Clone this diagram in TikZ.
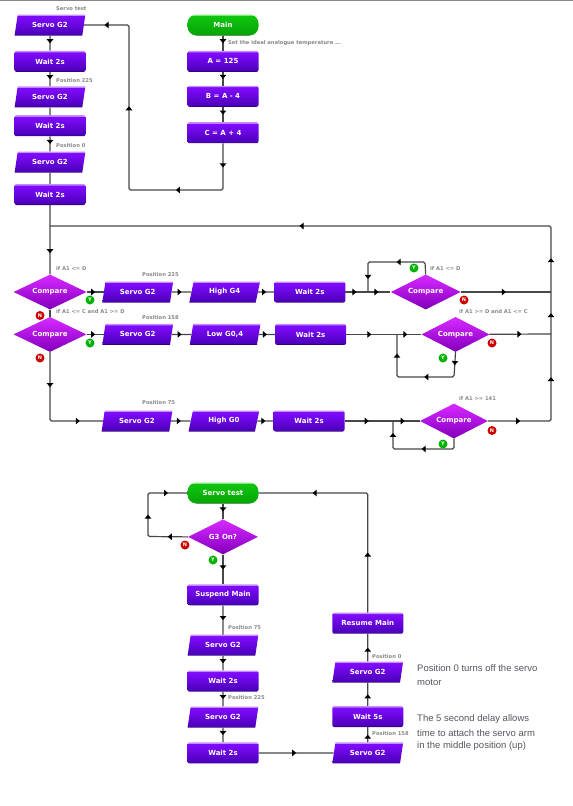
\documentclass[tikz,border=0pt]{standalone}
\usepackage{fontspec}
\setsansfont{DejaVu Sans}
\newfontfamily\notefont{Liberation Sans}
\usetikzlibrary{shapes.geometric,arrows.meta,positioning,decorations.markings}

\definecolor{cap_gray}{RGB}{135,135,135}
\definecolor{note_gray}{RGB}{85,85,95}
\definecolor{pur_dark}{RGB}{50,0,125}
\definecolor{pur_low}{RGB}{75,0,185}
\definecolor{pur_high}{RGB}{125,10,250}
\definecolor{pur_edge}{RGB}{195,140,255}
\definecolor{mag_dark}{RGB}{85,0,140}
\definecolor{mag_low}{RGB}{135,0,190}
\definecolor{mag_high}{RGB}{205,35,250}
\definecolor{mag_edge}{RGB}{215,90,255}
\definecolor{grn_dark}{RGB}{0,105,0}
\definecolor{grn_low}{RGB}{5,165,5}
\definecolor{grn_high}{RGB}{15,195,15}
\definecolor{grn_edge}{RGB}{120,235,120}
% bevelled fills, 25bp to 75bp is the height of the shape
\pgfdeclareverticalshading{purple_bevel}{100bp}{color(0bp)=(pur_dark); color(27.5bp)=(pur_dark); color(28bp)=(pur_low); color(68bp)=(pur_high); color(72bp)=(pur_high); color(73bp)=(pur_edge); color(100bp)=(pur_edge)}
\pgfdeclareverticalshading{magenta_bevel}{100bp}{color(0bp)=(mag_dark); color(26.5bp)=(mag_dark); color(28bp)=(mag_low); color(68bp)=(mag_high); color(100bp)=(mag_edge)}
\pgfdeclareverticalshading{green_bevel}{100bp}{color(0bp)=(grn_dark); color(27.5bp)=(grn_dark); color(28bp)=(grn_low); color(68bp)=(grn_high); color(72bp)=(grn_high); color(73bp)=(grn_edge); color(100bp)=(grn_edge)}

\begin{document}
\begin{tikzpicture}[
    x=1pt, y=-1pt,
    font=\sffamily\bfseries\fontsize{7}{8}\selectfont,
    proc_box/.style={shading=purple_bevel, rounded corners=2pt, text=white, inner sep=0pt, minimum width=71pt, minimum height=21pt},
    io_box/.style={trapezium, trapezium left angle=72, trapezium right angle=108, trapezium stretches=true, shading=purple_bevel, text=white, inner sep=0pt, minimum width=71pt, minimum height=21pt},
    dec_box/.style={diamond, aspect=2.1, shading=magenta_bevel, text=white, inner sep=0pt, minimum width=#1, minimum height=35pt},
    start_box/.style={shading=green_bevel, rounded corners=9pt, text=white, inner sep=0pt, minimum width=71pt, minimum height=21pt},
    yes_dot/.style={circle, fill=green!70!black, text=white, inner sep=0pt, minimum size=9pt, font=\sffamily\bfseries\fontsize{5}{5}\selectfont},
    no_dot/.style={circle, fill=red!80!black, text=white, inner sep=0pt, minimum size=9pt, font=\sffamily\bfseries\fontsize{5}{5}\selectfont},
    cap_txt/.style={text=cap_gray, anchor=west, inner sep=0pt, font=\sffamily\bfseries\fontsize{5.2}{6}\selectfont},
    note_txt/.style={text=note_gray, anchor=west, inner sep=0pt, font=\notefont\fontsize{9.5}{12}\selectfont},
    flow/.style={draw=black!72, line width=1.2pt, rounded corners=1.5pt},
    mid_tip/.style={postaction={decorate, decoration={markings, mark=at position #1 with {\arrow{Triangle[black, length=4pt, width=6.5pt]}}}}}
]
\useasboundingbox (0,0) rectangle (573,806);
\draw[cap_gray, line width=1pt] (0,0.5) -- (573,0.5);

% SERVO SWEEP COLUMN
\node[io_box] at (50,25) (servo_a) {Servo G2};
\node[proc_box, below=15pt of servo_a] (wait_a) {Wait 2s};
\node[io_box, below=14pt of wait_a] (servo_b) {Servo G2};
\node[proc_box, below=7.5pt of servo_b] (wait_b) {Wait 2s};
\node[io_box, below=15pt of wait_b] (servo_c) {Servo G2};
\node[proc_box, below=11pt of servo_c] (wait_c) {Wait 2s};

% MAIN COLUMN
\node[start_box] at (223,25) (main) {Main};
\node[proc_box, below=15pt of main] (set_a) {A = 125};
\node[proc_box, below=13.5pt of set_a] (set_b) {B = A - 4};
\node[proc_box, below=15pt of set_b] (set_c) {C = A + 4};

% COMPARE ROWS
\node[dec_box=73pt] at (50,292) (cmp_a) {Compare};
\node[io_box, right=17pt of cmp_a] (servo_d) {Servo G2};
\node[io_box, right=19.5pt of servo_d] (high_a) {High G4};
\node[proc_box, right=16pt of high_a] (wait_d) {Wait 2s};
\node[dec_box=70pt, right=45pt of wait_d] (cmp_d) {Compare};

\node[dec_box=73pt, below=7pt of cmp_a] (cmp_b) {Compare};
\node[io_box, right=17pt of cmp_b] (servo_e) {Servo G2};
\node[io_box, right=19.5pt of servo_e] (low_a) {Low G0,4};
\node[proc_box, right=16pt of low_a] (wait_e) {Wait 2s};
\node[dec_box=68pt, right=75pt of wait_e] (cmp_e) {Compare};

\node[io_box] at (137,421) (servo_f) {Servo G2};
\node[io_box, right=19.5pt of servo_f] (high_b) {High G0};
\node[proc_box, right=16pt of high_b] (wait_f) {Wait 2s};
\node[dec_box=68pt, right=75pt of wait_f] (cmp_f) {Compare};

% SERVO TEST
\node[start_box] at (223,493) (start_t) {Servo test};
\node[dec_box=70pt, below=15.5pt of start_t] (cmp_g) {G3 On?};
\node[proc_box, below=29.5pt of cmp_g] (suspend) {Suspend Main};
\node[io_box, below=29pt of suspend] (servo_g) {Servo G2};
\node[proc_box, below=14.5pt of servo_g] (wait_g) {Wait 2s};
\node[io_box, below=14.5pt of wait_g] (servo_h) {Servo G2};
\node[proc_box, below=14.5pt of servo_h] (wait_h) {Wait 2s};
\node[io_box, right=75pt of wait_h] (servo_m) {Servo G2};
\node[proc_box, above=15pt of servo_m] (wait_m) {Wait 5s};
\node[io_box, above=23pt of wait_m] (servo_n) {Servo G2};
\node[proc_box, above=27.5pt of servo_n] (resume) {Resume Main};

% BEND POINTS
\coordinate (loop_bl) at (129,190);
\coordinate (bus_d) at (551,292);
\coordinate (bus_e) at (551,334);
\coordinate (bus_br) at (551,421);
\coordinate (bus_tr) at (551,226);
\coordinate (bus_tl) at (50,226);
\coordinate (row_fl) at (50,421);
\coordinate (d_a) at (425,262);
\coordinate (d_b) at (368,262);
\coordinate (d_c) at (368,292);
\coordinate (e_a) at (454,377);
\coordinate (e_b) at (397,377);
\coordinate (e_c) at (397,334);
\coordinate (f_a) at (454,449);
\coordinate (f_b) at (393,449);
\coordinate (f_c) at (393,421);
\coordinate (g_a) at (148,536.5);
\coordinate (g_b) at (148,493);

% ARROWS
\draw[flow, mid_tip=0.5] (servo_a) -- (wait_a);
\draw[flow, mid_tip=0.5] (wait_a) -- (servo_b);
\draw[flow] (servo_b) -- (wait_b);
\draw[flow, mid_tip=0.5] (wait_b) -- (servo_c);
\draw[flow] (servo_c) -- (wait_c);
\draw[flow, mid_tip=48pt] (wait_c) -- (cmp_a);

\draw[flow, mid_tip=0.5] (main) -- (set_a);
\draw[flow, mid_tip=0.5] (set_a) -- (set_b);
\draw[flow, mid_tip=0.5] (set_b) -- (set_c);
\draw[flow, mid_tip=24pt, mid_tip=93pt, mid_tip=223pt, mid_tip=328pt] (set_c) |- (loop_bl) |- (servo_a);

\draw[flow, mid_tip=0.5] (cmp_a) -- (servo_d);
\draw[flow, mid_tip=0.5] (servo_d) -- (high_a);
\draw[flow, mid_tip=0.5] (high_a) -- (wait_d);
\draw[flow, mid_tip=11pt, mid_tip=33pt] (wait_d) -- (cmp_d);
\draw[flow, mid_tip=40pt, mid_tip=85pt] (cmp_d.north) -- (d_a) -- (d_b) -- (d_c);
\draw[flow, mid_tip=45pt] (cmp_d) -- (bus_d);

\draw[flow] (cmp_a) -- (cmp_b);
\draw[flow, mid_tip=0.5] (cmp_b) -- (servo_e);
\draw[flow, mid_tip=0.5] (servo_e) -- (low_a);
\draw[flow, mid_tip=0.5] (low_a) -- (wait_e);
\draw[flow, mid_tip=25pt, mid_tip=61pt] (wait_e) -- (cmp_e);
\draw[flow, mid_tip=13pt, mid_tip=54pt, mid_tip=104pt] (cmp_e.south) -- (e_a) -- (e_b) -- (e_c);
\draw[flow, mid_tip=32pt] (cmp_e) -- (bus_e);

\draw[flow, mid_tip=35pt, mid_tip=98pt] (cmp_b.south) -- (row_fl) -- (servo_f);
\draw[flow, mid_tip=0.5] (servo_f) -- (high_b);
\draw[flow, mid_tip=0.5] (high_b) -- (wait_f);
\draw[flow, mid_tip=24pt, mid_tip=60pt] (wait_f) -- (cmp_f);
\draw[flow, mid_tip=42pt, mid_tip=86pt] (cmp_f.south) -- (f_a) -- (f_b) -- (f_c);
\draw[flow, mid_tip=32pt, mid_tip=106pt, mid_tip=170pt, mid_tip=225pt, mid_tip=508pt] (cmp_f) -- (bus_br) -- (bus_tr) -- (bus_tl);

\draw[flow, mid_tip=0.5] (start_t) -- (cmp_g);
\draw[flow, mid_tip=20pt, mid_tip=61pt, mid_tip=102pt] (cmp_g.west) -- (g_a) -- (g_b) -- (start_t.west);
\draw[flow, mid_tip=0.5] (cmp_g) -- (suspend);
\draw[flow, mid_tip=0.5] (suspend) -- (servo_g);
\draw[flow, mid_tip=0.5] (servo_g) -- (wait_g);
\draw[flow, mid_tip=0.5] (wait_g) -- (servo_h);
\draw[flow, mid_tip=0.5] (servo_h) -- (wait_h);
\draw[flow, mid_tip=0.5] (wait_h) -- (servo_m);
\draw[flow, mid_tip=0.5] (servo_m) -- (wait_m);
\draw[flow, mid_tip=0.5] (wait_m) -- (servo_n);
\draw[flow, mid_tip=0.5] (servo_n) -- (resume);
\draw[flow, mid_tip=60pt, mid_tip=174pt] (resume) |- (start_t);

% YES AND NO MARKS
\node[yes_dot] at (90,300) (yes_a) {Y};
\node[no_dot] at (40,315.5) (no_a) {N};
\node[yes_dot] at (90,343) (yes_b) {Y};
\node[no_dot] at (40,358) (no_b) {N};
\node[yes_dot] at (414,268) (yes_d) {Y};
\node[no_dot] at (464,300) (no_d) {N};
\node[yes_dot] at (443,358) (yes_e) {Y};
\node[no_dot] at (492,343) (no_e) {N};
\node[yes_dot] at (443,444) (yes_f) {Y};
\node[no_dot] at (492,430.5) (no_f) {N};
\node[yes_dot] at (213,560) (yes_g) {Y};
\node[no_dot] at (185,545) (no_g) {N};

% SMALL CAPTIONS
\node[cap_txt] at (56,9) (cap_a) {Servo test};
\node[cap_txt] at (56,81) (cap_b) {Position 225};
\node[cap_txt] at (56,146) (cap_c) {Position 0};
\node[cap_txt] at (228,43) (cap_d) {Set the ideal analogue temperature ...};
\node[cap_txt] at (56,269) (cap_e) {if A1 <= D};
\node[cap_txt] at (56,312) (cap_f) {if A1 <= C and A1 >= D};
\node[cap_txt] at (142,275) (cap_g) {Position 225};
\node[cap_txt] at (142,318) (cap_h) {Position 158};
\node[cap_txt] at (142,403) (cap_i) {Position 75};
\node[cap_txt] at (430,269) (cap_j) {if A1 <= D};
\node[cap_txt] at (459,312) (cap_k) {if A1 >= D and A1 <= C};
\node[cap_txt] at (459,399) (cap_l) {if A1 >= 141};
\node[cap_txt] at (228,628) (cap_m) {Position 75};
\node[cap_txt] at (228,698) (cap_n) {Position 225};
\node[cap_txt] at (372,657) (cap_o) {Position 0};
\node[cap_txt] at (372,734) (cap_p) {Position 158};

% NOTES
\node[note_txt] at (417,668) (note_a) {Position 0 turns off the servo};
\node[note_txt] at (417,682) (note_b) {motor};
\node[note_txt] at (417,719) (note_c) {The 5 second delay allows};
\node[note_txt] at (417,733) (note_d) {time to attach the servo arm};
\node[note_txt] at (417,746) (note_e) {in the middle position (up)};

\end{tikzpicture}
\end{document}
